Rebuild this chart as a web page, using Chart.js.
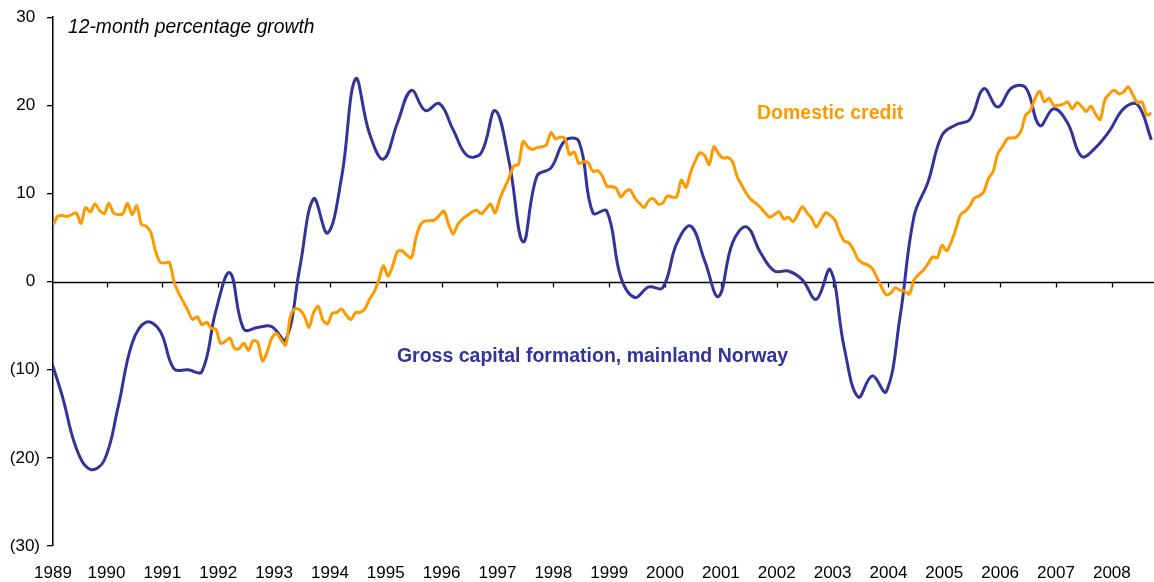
<!DOCTYPE html>
<html>
<head>
<meta charset="utf-8">
<script src="https://cdn.jsdelivr.net/npm/chart.js@4.4.1/dist/chart.umd.min.js"></script>
<style>
  html, body { margin: 0; padding: 0; background: #fff; }
  #wrap { width: 1154px; height: 582px; }
</style>
</head>
<body>
<div id="wrap"><canvas id="growth"></canvas></div>
<script>
/* Domestic credit, 12-month growth, monthly from Jan 1989 */
const creditValues = [
  6.4, 7.4, 7.5, 7.4, 7.6, 7.8, 6.6, 8.4, 7.9, 8.8, 8.1, 7.7,
  8.9, 7.8, 7.6, 7.7, 8.9, 7.6, 8.6, 6.5, 6.3, 5.6, 3.5, 2.2,
  2.1, 2.2, 0.0, -1.3, -2.3, -3.3, -4.3, -4.0, -4.9, -4.6, -5.3, -5.4,
  -7.0, -6.8, -6.4, -7.6, -7.6, -7.0, -7.8, -6.7, -6.9, -9.0, -8.0, -6.4,
  -5.9, -6.6, -7.2, -4.0, -3.1, -3.2, -3.9, -5.2, -3.5, -2.8, -4.4, -4.8,
  -3.6, -3.5, -3.1, -3.8, -4.3, -3.5, -3.5, -3.1, -2.0, -1.2, 0.2, 1.8,
  0.6, 1.8, 3.4, 3.5, 3.0, 2.7, 5.0, 6.5, 6.9, 6.9, 7.0, 7.5,
  8.0, 6.5, 5.4, 6.5, 7.1, 7.5, 7.9, 8.1, 7.7, 8.2, 8.8, 7.8,
  9.4, 10.6, 11.8, 13.1, 13.3, 15.9, 15.3, 15.0, 15.2, 15.3, 15.5, 16.9,
  16.2, 16.4, 16.2, 14.4, 14.7, 13.4, 13.6, 13.5, 12.5, 12.6, 12.0, 10.8,
  10.8, 10.6, 9.6, 10.2, 10.4, 9.5, 8.9, 8.4, 9.2, 9.4, 8.8, 8.9,
  9.7, 9.6, 9.6, 11.5, 10.7, 12.4, 13.7, 14.6, 14.3, 13.3, 15.3, 14.5,
  14.0, 14.1, 13.6, 11.9, 10.9, 10.0, 9.3, 8.9, 8.4, 7.8, 7.3, 7.6,
  7.9, 7.1, 7.3, 6.8, 7.6, 8.5, 7.8, 7.2, 6.2, 7.0, 7.8, 7.5,
  7.0, 5.6, 4.6, 4.4, 3.6, 2.5, 2.1, 1.9, 1.5, 0.5, -0.6, -1.5,
  -1.3, -0.7, -1.0, -1.1, -1.4, 0.2, 0.8, 1.3, 2.0, 2.8, 2.7, 4.1,
  3.5, 4.5, 6.0, 7.6, 8.0, 8.6, 9.5, 9.7, 10.2, 11.7, 12.5, 14.5,
  15.3, 16.2, 16.3, 16.4, 17.1, 18.9, 19.4, 20.8, 21.6, 20.4, 20.8, 20.0,
  20.0, 20.1, 20.4, 19.6, 20.3, 19.9, 19.3, 19.9, 19.0, 18.4, 20.6, 21.3,
  21.7, 21.3, 21.5, 22.1, 21.2, 20.3, 20.4, 18.9, 19.1
];

/* Gross capital formation, mainland Norway, quarterly from Q4 1988 */
const investValues = [
  -8.0,
  -13.0, -18.9, -21.3, -20.3,
  -14.2, -7.0, -4.6, -5.6,
  -9.9, -10.0, -10.2, -3.3,
  1.0, -5.4, -5.2, -5.1,
  -6.6, 1.5, 9.4, 5.5,
  11.8, 23.0, 16.8, 13.9,
  18.0, 21.7, 19.4, 20.2,
  17.2, 14.3, 14.6, 19.4,
  13.6, 4.5, 12.0, 12.9,
  16.0, 15.9, 7.8, 8.0,
  0.5, -1.8, -0.6, -0.7,
  4.3, 6.3, 2.4, -1.7,
  4.4, 6.2, 3.3, 1.2,
  1.2, 0.2, -2.0, 1.35,
  -7.5, -13.1, -10.7, -12.5,
  -4.0, 7.4, 11.3, 16.6,
  17.8, 18.4, 21.9, 19.8,
  22.0, 22.0, 17.7, 19.6,
  18.0, 14.2, 15.2, 17.1,
  19.6, 20.1, 16.1
];

const yearTicks = [1989, 1990, 1991, 1992, 1993, 1994, 1995, 1996, 1997, 1998,
                   1999, 2000, 2001, 2002, 2003, 2004, 2005, 2006, 2007, 2008];
const valueTicks = [-30, -20, -10, 0, 10, 20, 30];

const ORANGE = '#ff9900';
const NAVY = '#333399';
const FONT = "'Liberation Sans', Arial, sans-serif";

// months sit at mid-month, quarters at the middle of their last month
const creditPoints = creditValues.map((v, i) => ({ x: 1989 + (i + 0.5) / 12, y: v }));
const investPoints = investValues.map((v, i) => ({ x: 1988.75 + (i * 3 + 2.5) / 12, y: v }));

const X_MIN = 1989 + 0.5 / 12;
const X_MAX = 2008.755;

/* zero line with year tick marks hanging from it */
const zeroAxis = {
  id: 'zeroAxis',
  beforeDatasetsDraw(chart) {
    const { ctx, chartArea, scales: { x, y } } = chart;
    const y0 = Math.round(y.getPixelForValue(0)) + 0.5;
    ctx.save();
    ctx.strokeStyle = '#000';
    ctx.lineWidth = 1.3;
    ctx.beginPath();
    ctx.moveTo(chartArea.left, y0);
    ctx.lineTo(chartArea.right, y0);
    yearTicks.forEach(yr => {
      const px = Math.round(x.getPixelForValue(yr)) + 0.5;
      if (px < chartArea.left - 1) return;
      ctx.moveTo(px, y0);
      ctx.lineTo(px, y0 + 5);
    });
    ctx.stroke();
    ctx.restore();
  }
};

/* in-chart captions */
const captions = {
  id: 'captions',
  afterDatasetsDraw(chart) {
    const { ctx, chartArea, scales: { x, y } } = chart;
    ctx.save();
    ctx.textAlign = 'left';
    ctx.textBaseline = 'middle';

    ctx.fillStyle = '#000';
    ctx.font = `italic 19.3px ${FONT}`;
    ctx.fillText('12-month percentage growth', chartArea.left + 15, chartArea.top + 10);

    ctx.font = `bold 19.5px ${FONT}`;
    ctx.fillStyle = ORANGE;
    ctx.fillText('Domestic credit', x.getPixelForValue(2001.647), y.getPixelForValue(19.1));

    ctx.fillStyle = NAVY;
    ctx.fillText('Gross capital formation, mainland Norway',
                 x.getPixelForValue(1995.2), y.getPixelForValue(-8.5));
    ctx.restore();
  }
};

new Chart(document.getElementById('growth').getContext('2d'), {
  type: 'line',
  data: {
    datasets: [
      {
        label: 'Domestic credit',
        data: creditPoints,
        borderColor: ORANGE,
        borderWidth: 3,
        tension: 0.3,
        pointRadius: 0,
      },
      {
        label: 'Gross capital formation, mainland Norway',
        data: investPoints,
        borderColor: NAVY,
        borderWidth: 3,
        tension: 0.4,
        pointRadius: 0,
      },
    ],
  },
  options: {
    responsive: true,
    maintainAspectRatio: false,
    animation: false,
    layout: { padding: { top: 15, right: 0, left: 0, bottom: 0 } },
    plugins: {
      legend: { display: false },
      tooltip: { enabled: false },
    },
    scales: {
      x: {
        type: 'linear',
        min: X_MIN,
        max: X_MAX,
        afterBuildTicks: s => { s.ticks = yearTicks.map(v => ({ value: v === 1989 ? X_MIN : v })); },
        afterFit: s => { s.height = 36; },
        ticks: {
          color: '#000',
          font: { family: FONT, size: 17 },
          padding: 17,
          maxRotation: 0,
          autoSkip: false,
          callback: v => String(Math.floor(v)),
        },
        grid: { display: false, drawTicks: false },
        border: { display: false },
      },
      y: {
        min: -30,
        max: 30,
        afterBuildTicks: s => { s.ticks = valueTicks.map(v => ({ value: v })); },
        afterFit: s => { s.width = 53; },
        ticks: {
          color: '#000',
          font: { family: FONT, size: 17 },
          padding: 7,
          callback: v => (v < 0 ? `(${-v})` : `${v} `),
        },
        grid: {
          drawOnChartArea: false,
          drawTicks: true,
          tickLength: 6,
          color: '#000',
          lineWidth: 1.3,
        },
        border: { display: true, color: '#000', width: 1.5 },
      },
    },
  },
  plugins: [zeroAxis, captions],
});
</script>
</body>
</html>
